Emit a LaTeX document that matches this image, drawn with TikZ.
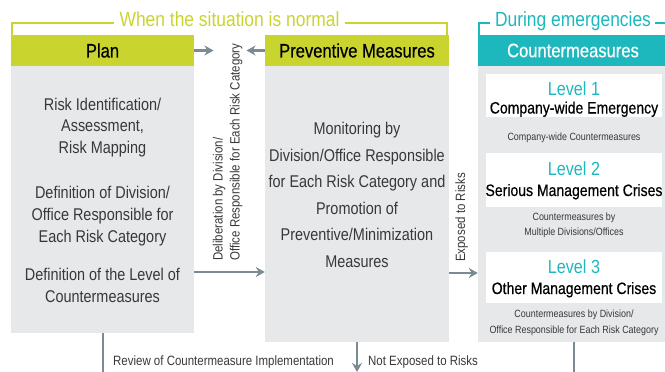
\documentclass[tikz,border=0pt]{standalone}
\usepackage{fontspec}
\setmainfont{Liberation Sans}[FakeStretch=0.85]
\newfontfamily\medfont{Liberation Sans}[FakeStretch=0.85,FakeBold=0.5]
\usetikzlibrary{arrows.meta}
\definecolor{limegreen}{HTML}{C9D42F}
\definecolor{tealc}{HTML}{1DB8BE}
\definecolor{panelgray}{HTML}{E6E8EA}
\definecolor{arrgray}{HTML}{7B8B93}
\definecolor{bodytext}{HTML}{383838}
\tikzset{
  hd/.style={inner sep=0pt, minimum height=31pt, font=\medfont\fontsize{19.5}{20}\selectfont, text=black},
  panel/.style={fill=panelgray, inner sep=0pt},
  lvl/.style={fill=white, inner sep=0pt, minimum width=176pt},
  bt/.style={font=\fontsize{17}{20}\selectfont, text=bodytext, anchor=base, inner sep=0pt},
  lvlnum/.style={font=\fontsize{19}{20}\selectfont, text=tealc, anchor=base, inner sep=0pt},
  lvlname/.style={font=\medfont\fontsize{16.5}{20}\selectfont, text=black, anchor=base, inner sep=0pt},
  small/.style={font=\fontsize{10.5}{12}\selectfont, text=bodytext, anchor=base, inner sep=0pt},
  lab/.style={font=\fontsize{13.5}{16}\selectfont, text=bodytext, inner sep=0pt},
  bracket/.style={font=\fontsize{20.5}{22}\selectfont, anchor=base, inner sep=0pt},
  conn/.style={draw=arrgray, line width=2.6pt, -{Stealth[length=9pt,width=10pt]}},
  plainline/.style={draw=arrgray, line width=2.6pt},
}
\begin{document}
\begin{tikzpicture}[x=1pt,y=-1pt]
\useasboundingbox (0,0) rectangle (665,372);

% bodies
\node[panel, minimum width=183pt, minimum height=267pt] (planbody) at (102.5,199.5) {};
\node[panel, minimum width=184pt, minimum height=276pt] (prevbody) at (357,204) {};
\node[panel, minimum width=190pt, minimum height=276pt] (cntbody) at (573,204) {};

% headers
\node[hd, fill=limegreen, minimum width=183pt] (planhd) at (102.5,50.5) {Plan};
\node[hd, fill=limegreen, minimum width=184pt] (prevhd) at (357,50.5) {Preventive Measures};
\node[hd, fill=tealc, minimum width=190pt, text=white] (cnthd) at (573,50.5) {Countermeasures};

% brackets
\node[bracket, text=limegreen] (normal) at (229.5,27) {When the situation is normal};
\node[bracket, text=tealc] (emerg) at (573,27) {During emergencies};
\draw[limegreen, line width=1.6pt] (12,35) -- (12,23) -- (114,23);
\draw[limegreen, line width=1.6pt] (345,23) -- (447,23) -- (447,35);
\draw[tealc, line width=1.6pt] (479,35) -- (479,23) -- (490,23);
\draw[tealc, line width=1.6pt] (655,23) -- (668,23);

% plan text
\node[bt] (p1) at (102.5,110) {Risk Identification/};
\node[bt] (p2) at (102.5,131.5) {Assessment,};
\node[bt] (p3) at (102.5,153) {Risk Mapping};
\node[bt] (p4) at (102.5,198) {Definition of Division/};
\node[bt] (p5) at (102.5,220) {Office Responsible for};
\node[bt] (p6) at (102.5,242) {Each Risk Category};
\node[bt] (p7) at (102.5,280) {Definition of the Level of};
\node[bt] (p8) at (102.5,302) {Countermeasures};

% preventive text
\node[bt] (m1) at (357,134.5) {Monitoring by};
\node[bt] (m2) at (357,161) {Division/Office Responsible};
\node[bt] (m3) at (357,187.5) {for Each Risk Category and};
\node[bt] (m4) at (357,214) {Promotion of};
\node[bt] (m5) at (357,240.5) {Preventive/Minimization};
\node[bt] (m6) at (357,267) {Measures};

% levels
\node[lvl, minimum height=43pt] (l1) at (574,95.5) {};
\node[lvl, minimum height=54pt] (l2) at (574,180) {};
\node[lvl, minimum height=51pt] (l3) at (574,277.5) {};
\node[lvlnum] (l1a) at (574,95) {Level 1};
\node[lvlname] (l1b) at (574,113.5) {Company-wide Emergency};
\node[small] (l1c) at (574,140) {Company-wide Countermeasures};
\node[lvlnum] (l2a) at (574,175) {Level 2};
\node[lvlname] (l2b) at (574,196) {Serious Management Crises};
\node[small] (l2c) at (574,220) {Countermeasures by};
\node[small] (l2d) at (574,235) {Multiple Divisions/Offices};
\node[lvlnum] (l3a) at (574,273) {Level 3};
\node[lvlname] (l3b) at (574,294) {Other Management Crises};
\node[small] (l3c) at (574,317) {Countermeasures by Division/};
\node[small] (l3d) at (574,333) {Office Responsible for Each Risk Category};

% top arrows and rotated label
\coordinate (ta) at (213.5,50.5);
\coordinate (tb) at (246.5,50.5);
\draw[conn] (planhd.east) -- (ta);
\draw[conn] (prevhd.west) -- (tb);
\node[lab, rotate=90, anchor=base west] (del1) at (222.5,261) {Deliberation by Division/};
\node[lab, rotate=90, anchor=base west] (del2) at (239.5,261) {Office Responsible for Each Risk Category};

% middle arrows
\draw[conn] (planbody.east |- 0,272) -- (prevbody.west |- 0,272);
\draw[conn] (prevbody.east |- 0,273) -- (cntbody.west |- 0,273);
\node[lab, rotate=90, anchor=base west] (exp) at (465,262) {Exposed to Risks};

% bottom
\coordinate (b1) at (103,375);
\coordinate (b2) at (357,372);
\coordinate (b3) at (574,375);
\draw[plainline] (planbody.south -| b1) -- (b1);
\draw[conn] (prevbody.south -| b2) -- (b2);
\draw[plainline] (cntbody.south -| b3) -- (b3);
\node[lab, anchor=base west] (rev) at (113,365) {Review of Countermeasure Implementation};
\node[lab, anchor=base west] (nexp) at (368,365) {Not Exposed to Risks};
\end{tikzpicture}
\end{document}
